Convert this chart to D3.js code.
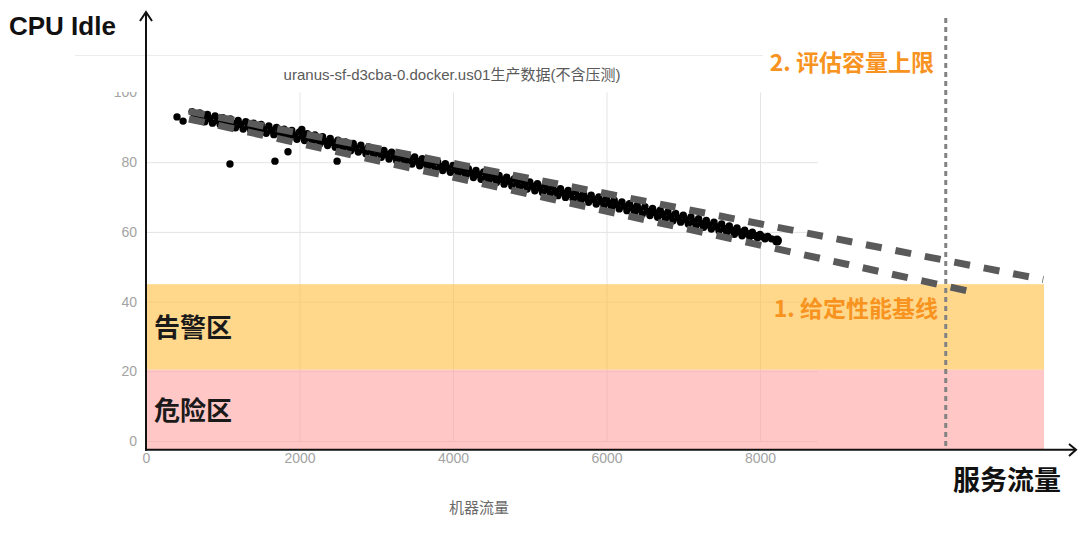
<!DOCTYPE html>
<html><head><meta charset="utf-8">
<script src="https://cdn.jsdelivr.net/npm/d3@7"></script>
<style>body{margin:0;background:#fff}svg{display:block}</style>
</head><body>
<script>
// ---------- data ----------
const yTicks = [0, 20, 40, 60, 80, 100];
const xTicks = [0, 2000, 4000, 6000, 8000];
const gridYValues = [0, 20, 40, 60, 80];
const gridXValues = [2000, 4000, 6000, 8000];
const chartTitle = "uranus-sf-d3cba-0.docker.us01生产数据(不含压测)";
const xAxisName = "机器流量";
const yAxisTitle = "CPU Idle";
const xAxisTitle = "服务流量";
const zoneNames = ["危险区", "告警区"];
const zoneFrom = [-2.5, 20.5];
const zoneTo = [20.5, 45];
const zoneXEnd = 11700;
const baselineLabel = "1. 给定性能基线";
const capacityLabel = "2. 评估容量上限";
const capacityX = 10420;
const baselineUpper = [[560, 94.6], [11690, 46.3]];
const baselineLower = [[560, 92.4], [10780, 42.7]];
const outliers = [[404, 93.0], [483, 91.8], [1094, 79.5], [1680, 80.3], [1850, 83.0], [2490, 80.3]];
const endPoint = [[8221, 57.5]];
const bandPoints = [
 [600,94.5],[633,93.3],[666,92.0],[700,94.1],[733,92.8],[766,91.6],[800,93.7],[833,92.5],[866,91.2],
 [900,93.3],[933,92.0],[966,90.8],[1000,92.8],[1033,91.6],[1066,90.3],[1100,92.4],[1133,91.1],[1166,89.9],
 [1200,92.0],[1233,90.8],[1266,89.5],[1300,91.6],[1333,90.3],[1366,89.1],[1400,91.2],[1433,90.0],[1466,88.7],
 [1500,90.8],[1533,89.5],[1566,88.3],[1600,90.4],[1633,89.2],[1666,87.9],[1700,90.0],[1733,88.7],[1766,87.5],
 [1800,89.5],[1833,88.3],[1866,87.0],[1900,89.1],[1933,87.8],[1966,86.6],[2000,88.7],[2033,87.5],[2066,86.2],
 [2030,89.4],
 [2100,88.2],[2133,87.0],[2166,85.7],[2200,87.8],[2233,86.5],[2266,85.3],[2300,87.3],[2333,86.0],[2366,84.8],
 [2400,86.8],[2433,85.6],[2466,84.3],[2500,86.3],[2533,85.1],[2566,83.8],[2600,85.8],[2633,84.6],[2666,83.3],
 [2700,85.4],[2733,84.1],[2766,82.9],[2800,84.9],[2833,83.6],[2866,82.4],[2900,84.4],[2933,83.2],[2966,81.9],
 [3000,83.9],[3033,82.7],[3066,81.4],[3100,83.4],[3133,82.2],[3166,80.9],[3200,82.9],[3233,81.7],[3266,80.4],
 [3300,82.5],[3333,81.2],[3366,80.0],[3400,82.0],[3433,80.7],[3466,79.5],[3500,81.5],[3533,80.3],[3566,79.0],
 [3600,81.0],[3633,79.8],[3666,78.5],[3700,80.5],[3733,79.3],[3766,78.0],[3800,80.1],[3833,78.8],[3866,77.6],
 [3900,79.6],[3933,78.3],[3966,77.1],[4000,79.1],[4033,77.9],[4066,76.6],[4100,78.6],[4133,77.4],[4166,76.1],
 [4200,78.1],[4233,76.9],[4266,75.6],[4300,77.6],[4333,76.4],[4366,75.1],[4400,77.2],[4433,75.9],[4466,74.7],
 [4500,76.7],[4533,75.5],[4566,74.2],[4600,76.2],[4633,75.0],[4666,73.7],[4700,75.7],[4733,74.5],[4766,73.2],
 [4800,75.3],[4833,74.0],[4866,72.8],[4900,74.8],[4933,73.5],[4966,72.3],[5000,74.3],[5033,73.1],[5066,71.8],
 [5100,73.8],[5133,72.6],[5166,71.3],[5200,73.4],[5233,72.1],[5266,70.9],[5300,72.9],[5333,71.6],[5366,70.4],
 [5400,72.4],[5433,71.2],[5466,69.9],[5500,71.9],[5533,70.7],[5566,69.4],[5600,71.5],[5633,70.2],[5666,69.0],
 [5700,71.0],[5733,69.7],[5766,68.5],[5800,70.5],[5833,69.3],[5866,68.0],[5900,70.0],[5933,68.8],[5966,67.5],
 [6000,69.6],[6033,68.3],[6066,67.1],[6100,69.1],[6133,67.8],[6166,66.6],[6200,68.6],[6233,67.4],[6266,66.1],
 [6300,68.1],[6333,66.9],[6366,65.6],[6400,67.6],[6433,66.4],[6466,65.1],[6500,67.2],[6533,65.9],[6566,64.7],
 [6600,66.7],[6633,65.5],[6666,64.2],[6700,66.2],[6733,65.0],[6766,63.7],[6800,65.7],[6833,64.5],[6866,63.2],
 [6900,65.3],[6933,64.0],[6966,62.8],[7000,64.8],[7033,63.5],[7066,62.3],[7100,64.3],[7133,63.0],[7166,61.8],
 [7200,63.8],[7233,62.5],[7266,61.3],[7300,63.3],[7333,62.0],[7366,60.8],[7400,62.8],[7433,61.5],[7466,60.3],
 [7500,62.3],[7533,61.0],[7566,59.8],[7600,61.7],[7633,60.5],[7666,59.3],[7700,61.1],[7733,60.0],[7766,58.9],
 [7800,60.5],[7833,59.5],[7866,58.6],[7900,59.9],[7933,59.0],[7966,58.3],[8000,59.3],[8033,58.6],[8066,58.0],
 [8100,58.7],[8150,58.0]
];

// ---------- styles / layout ----------
const W = 1080, H = 543;
const latin = "Helvetica, Arial, 'Liberation Sans', 'Noto Sans CJK SC', sans-serif";
const cjk = "'Noto Sans CJK SC', 'Noto Sans', sans-serif";
const zoneColors = ["rgb(255,163,160)", "rgb(255,190,64)"];
const orange = "#f7931e";

const x = d3.scaleLinear().domain([0, 11700]).range([146, 1044]);
const y = d3.scaleLinear().domain([0, 100]).range([441, 92.5]);

const svg = d3.select("body").append("svg").attr("width", W).attr("height", H);

// top border line of screenshot
svg.append("line").attr("x1", 75).attr("x2", 763).attr("y1", 55.5).attr("y2", 55.5)
  .attr("stroke", "#ececec").attr("stroke-width", 1);

// gridlines
svg.append("g").selectAll("line").data(gridYValues).join("line")
  .attr("x1", x(0)).attr("x2", x(8755))
  .attr("y1", d => y(d) + 0.5).attr("y2", d => y(d) + 0.5)
  .attr("stroke", "#e4e4e4");
svg.append("g").selectAll("line").data(gridXValues).join("line")
  .attr("x1", d => x(d) + 0.5).attr("x2", d => x(d) + 0.5)
  .attr("y1", y(100)).attr("y2", y(0))
  .attr("stroke", "#e4e4e4");

// zones
svg.append("g").selectAll("rect").data(zoneNames).join("rect")
  .attr("x", x(0)).attr("width", x(zoneXEnd) - x(0))
  .attr("y", (d, i) => y(zoneTo[i])).attr("height", (d, i) => y(zoneFrom[i]) - y(zoneTo[i]))
  .attr("fill", (d, i) => zoneColors[i]).attr("fill-opacity", 0.6);

// y tick labels (axis), clipped at the top like the screenshot
svg.append("clipPath").attr("id", "yclip").append("rect")
  .attr("x", -146).attr("y", 92).attr("width", 146).attr("height", 400);
const yAxis = svg.append("g").attr("transform", `translate(${x(0)},0)`).attr("clip-path", "url(#yclip)")
  .call(d3.axisLeft(y).tickValues(yTicks).tickSize(0).tickPadding(9));
yAxis.select(".domain").remove();
yAxis.selectAll("text").attr("fill", "#a3a3a3").style("font-family", latin).style("font-size", "14px");

const xAxis = svg.append("g").attr("transform", `translate(0,${y(0)})`)
  .call(d3.axisBottom(x).tickValues(xTicks).tickFormat(d3.format("d")).tickSize(0).tickPadding(12));
xAxis.select(".domain").remove();
xAxis.selectAll("text").attr("fill", "#a3a3a3").style("font-family", latin).style("font-size", "14px");

// scatter
svg.append("g").selectAll("circle").data(bandPoints.concat(outliers)).join("circle")
  .attr("cx", d => x(d[0])).attr("cy", d => y(d[1])).attr("r", 3.7).attr("fill", "#000");
svg.append("g").selectAll("circle").data(endPoint).join("circle")
  .attr("cx", d => x(d[0])).attr("cy", d => y(d[1])).attr("r", 5).attr("fill", "#000");

// baseline dashed lines
const line = d3.line().x(d => x(d[0])).y(d => y(d[1]));
[baselineUpper, baselineLower].forEach(arr => {
  svg.append("path").attr("d", line(arr)).attr("fill", "none")
    .attr("stroke", "#5a5a5a").attr("stroke-width", 7).attr("stroke-dasharray", "16 14");
});

// capacity vertical dotted line
svg.append("line").attr("x1", x(capacityX)).attr("x2", x(capacityX))
  .attr("y1", 18).attr("y2", y(-2.5))
  .attr("stroke", "#828282").attr("stroke-width", 3).attr("stroke-dasharray", "5 4");

// main axes (black, arrows)
const axisY = y(-2.5);
svg.append("line").attr("x1", x(0)).attr("x2", x(0)).attr("y1", axisY + 1).attr("y2", 12)
  .attr("stroke", "#111").attr("stroke-width", 2);
svg.append("polyline").attr("points", `${x(0) - 6},21 ${x(0)},12 ${x(0) + 6},21`)
  .attr("fill", "none").attr("stroke", "#111").attr("stroke-width", 2);
svg.append("line").attr("x1", x(0) - 1).attr("x2", 1076).attr("y1", axisY).attr("y2", axisY)
  .attr("stroke", "#111").attr("stroke-width", 2);
svg.append("polyline").attr("points", `1069,444 1076,${axisY} 1069,456`)
  .attr("fill", "none").attr("stroke", "#111").attr("stroke-width", 2);

// texts
svg.append("text").attr("x", 452).attr("y", 80).attr("text-anchor", "middle")
  .attr("fill", "#5a5a5a").style("font-family", latin).style("font-size", "15px").text(chartTitle);
svg.append("text").attr("x", 479).attr("y", 513).attr("text-anchor", "middle")
  .attr("fill", "#6a6a6a").style("font-family", cjk).style("font-size", "15px").text(xAxisName);
svg.append("text").attr("x", 9).attr("y", 35)
  .attr("fill", "#111").style("font-family", latin).style("font-size", "26px").style("font-weight", "bold")
  .text(yAxisTitle);
svg.append("text").attr("x", 953).attr("y", 490)
  .attr("fill", "#111").style("font-family", cjk).style("font-size", "27px").style("font-weight", "bold")
  .text(xAxisTitle);
svg.append("g").selectAll("text").data(zoneNames).join("text")
  .attr("x", 154).attr("y", (d, i) => (y(zoneFrom[i]) + y(zoneTo[i])) / 2 + 10)
  .attr("fill", "#1a1a1a").style("font-family", cjk).style("font-size", "26px").style("font-weight", "bold")
  .text(d => d);
svg.append("text").attr("x", 938).attr("y", 317).attr("text-anchor", "end")
  .attr("fill", orange).style("font-family", cjk).style("font-size", "23px").style("font-weight", "bold")
  .text(baselineLabel);
svg.append("text").attr("x", 934).attr("y", 71).attr("text-anchor", "end")
  .attr("fill", orange).style("font-family", cjk).style("font-size", "23px").style("font-weight", "bold")
  .text(capacityLabel);
</script>
</body></html>
